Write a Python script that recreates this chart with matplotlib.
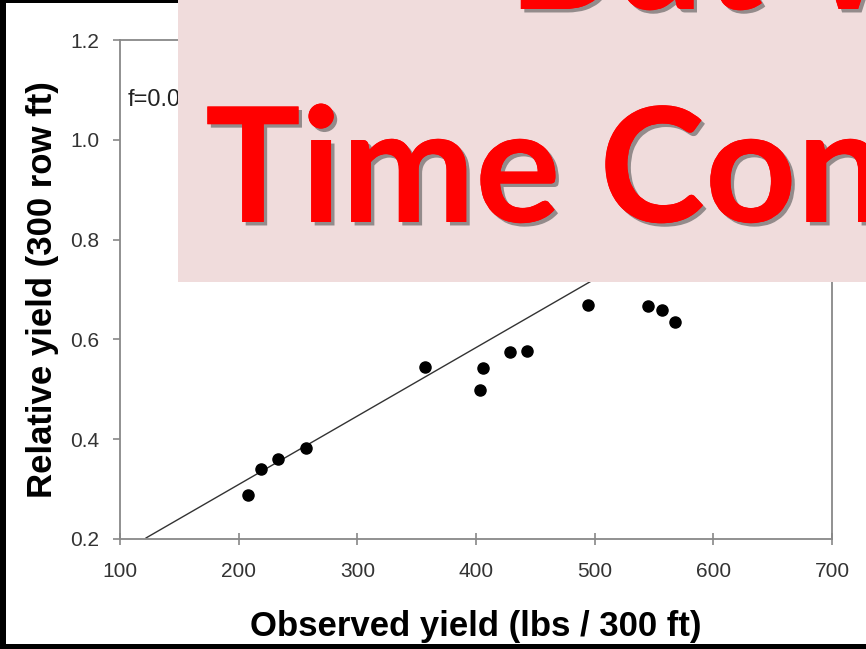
import numpy as np
import matplotlib.pyplot as plt
from matplotlib.patches import Rectangle
import matplotlib.patheffects as pe

# ===== data
observed = [208, 219, 233, 257, 357, 403.5, 405.5, 429, 443, 494, 545, 557, 568]
relative = [0.288, 0.340, 0.360, 0.383, 0.544, 0.498, 0.543, 0.574, 0.577, 0.669, 0.667, 0.659, 0.635]
fit_slope = 0.001372
fit_intercept = 0.0348
fit_x = [122, 700]
xticks = [100, 200, 300, 400, 500, 600, 700]
yticks = [0.2, 0.4, 0.6, 0.8, 1.0, 1.2]

plt.rcParams['font.family'] = ['Liberation Sans', 'DejaVu Sans']

fig = plt.figure(figsize=(8.66, 6.49), dpi=100)
ax = fig.add_axes([120/866, 1-539/649, 712/866, 499/649])

# fitted line + observations
fit_y = [fit_intercept + fit_slope*x for x in fit_x]
ax.plot(fit_x, fit_y, color='#333333', lw=1.0, zorder=2)
ax.plot(observed, relative, 'o', color='black', ms=8, zorder=3)

ax.set_xlim(100, 700)
ax.set_ylim(0.2, 1.2)
ax.set_xticks(xticks)
ax.set_yticks(yticks)
ax.set_yticklabels(['%.1f' % v for v in yticks])
for s in ax.spines.values():
    s.set_color('#888888')
    s.set_linewidth(1.3)
ax.tick_params(axis='x', direction='inout', length=9, color='#888888', width=1.2,
               labelsize=15, labelcolor='#333333', pad=12)
ax.tick_params(axis='y', direction='out', length=5, color='#888888', width=1.2,
               labelsize=15, labelcolor='#333333', pad=10)
ax.set_xlabel('Observed yield (lbs / 300 ft)', fontsize=25, fontweight='bold', labelpad=21)
ax.set_ylabel('Relative yield (300 row ft)', fontsize=25, fontweight='bold', labelpad=8)
ax.text(128/866, 1-100/649, 'f=0.0014x+0.03', transform=fig.transFigure,
        fontsize=17, va='center', ha='left', color='#222222')

# ===== slide overlay on top
fig.add_artist(Rectangle((178/866, 1-282/649), 1, 282/649, transform=fig.transFigure,
                         facecolor='#F0DCDC', edgecolor='none', zorder=5))
shadow = [pe.withSimplePatchShadow(offset=(2.5, -2.5), shadow_rgbFace='#555555', alpha=0.6), pe.Normal()]
fig.text(205/866, 1-222/649, 'Time Con', fontsize=115, fontweight='bold', family='Lato',
         color='#FF0000', ha='left', va='baseline', zorder=6, path_effects=shadow)
fig.text(508/866, 1-9/649, 'But W', fontsize=115, fontweight='bold', family='Lato',
         color='#FF0000', ha='left', va='baseline', zorder=6, path_effects=shadow)

# black frame edges
fig.add_artist(Rectangle((0, 0), 6/866, 1, transform=fig.transFigure, facecolor='black', edgecolor='none', zorder=7))
fig.add_artist(Rectangle((0, 0), 1, 5/649, transform=fig.transFigure, facecolor='black', edgecolor='none', zorder=7))
fig.add_artist(Rectangle((0, 1-3/649), 178/866, 3/649, transform=fig.transFigure, facecolor='black', edgecolor='none', zorder=7))

fig.savefig('out.png', dpi=100)
